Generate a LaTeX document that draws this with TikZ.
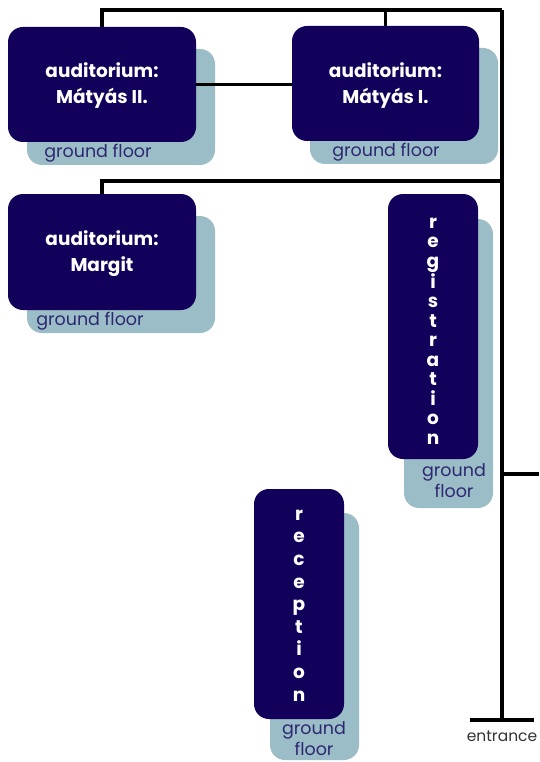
\documentclass[tikz,border=0pt]{standalone}
\usepackage{fontspec}
\setmainfont{Poppins}
\definecolor{navy}{HTML}{12005A}
\definecolor{shade}{HTML}{9BBDC8}
\definecolor{gftext}{HTML}{2E2870}
\begin{document}
\begin{tikzpicture}[x=1pt,y=-1pt,
  darkbox/.style={fill=navy, rounded corners=15pt, inner sep=0pt, text=white, align=center,
     font=\bfseries\fontsize{18.5}{26}\selectfont},
  shadebox/.style={fill=shade, rounded corners=15pt, inner sep=0pt},
  boxtext/.style={text=white, align=center, inner sep=0pt, font=\bfseries\fontsize{18.5}{26}\selectfont},
  gf/.style={text=gftext, font=\fontsize{17.5}{21}\selectfont, align=center, inner sep=0pt},
  conn/.style={line width=3.2pt, black},
  vtext/.style={boxtext, font=\bfseries\fontsize{18.5}{19.5}\selectfont}
]
\useasboundingbox (0,0) rectangle (539,762);
% Mátyás II
\node[shadebox, minimum width=188pt, minimum height=116pt] (s2) at (121,107) {};
\node[gf] (g2) at (98,153) {ground floor};
\node[darkbox, minimum width=188pt, minimum height=115pt] (m2) at (102,84.5) {};
\node[boxtext] (m2t) at (102,86) {auditorium:\\Mátyás II.};
% Mátyás I
\node[shadebox, minimum width=188pt, minimum height=116pt] (s1) at (404,106) {};
\node[gf] (g1) at (386,152) {ground floor};
\node[darkbox, minimum width=187pt, minimum height=115pt] (m1) at (385.5,83.5) {};
\node[boxtext] (m1t) at (385.5,86) {auditorium:\\Mátyás I.};
% Margit
\node[shadebox, minimum width=188pt, minimum height=117pt] (s3) at (121,274.5) {};
\node[gf] (g3) at (90,321) {ground floor};
\node[darkbox, minimum width=188pt, minimum height=116pt] (mg) at (102,252) {};
\node[boxtext] (mgt) at (102,253.5) {auditorium:\\Margit};
% registration
\node[shadebox, minimum width=89pt, minimum height=289pt] (s4) at (448.5,363.5) {};
\node[gf] (g4) at (454,481) {ground\\floor};
\node[darkbox, minimum width=90pt, minimum height=265pt] (rg) at (433,326.5) {};
\node[vtext] (rgt) at (433,331) {r\\e\\g\\i\\s\\t\\r\\a\\t\\i\\o\\n};
% reception
\node[shadebox, minimum width=89pt, minimum height=247pt] (s5) at (314.5,636.5) {};
\node[gf] (g5) at (314,739) {ground\\floor};
\node[darkbox, minimum width=90pt, minimum height=230pt] (rc) at (299,604) {};
\node[vtext, font=\bfseries\fontsize{18.5}{22.6}\selectfont] (rct) at (299,605.5) {r\\e\\c\\e\\p\\t\\i\\o\\n};
% connectors
\coordinate (tr) at (502,10);
\coordinate (mr) at (502,181);
\coordinate (rr) at (502,474);
\coordinate (re) at (539,474);
\coordinate (eb) at (502,720);
\coordinate (el) at (470,720);
\coordinate (er) at (534,720);
\draw[conn] (m2.north) |- (tr);
\draw[conn] (m1.north) -- (m1.north |- tr);
\draw[conn] (tr) -- (eb);
\draw[conn] (m2.east) -- (m2.east -| m1.west);
\draw[conn] (mg.north) |- (mr);
\draw[conn] (rr) -- (re);
\draw[conn] (el) -- (er);
\node[text=black!80, font=\fontsize{15.5}{17}\selectfont, inner sep=0pt] (ent) at (502,736) {entrance};
\end{tikzpicture}
\end{document}
